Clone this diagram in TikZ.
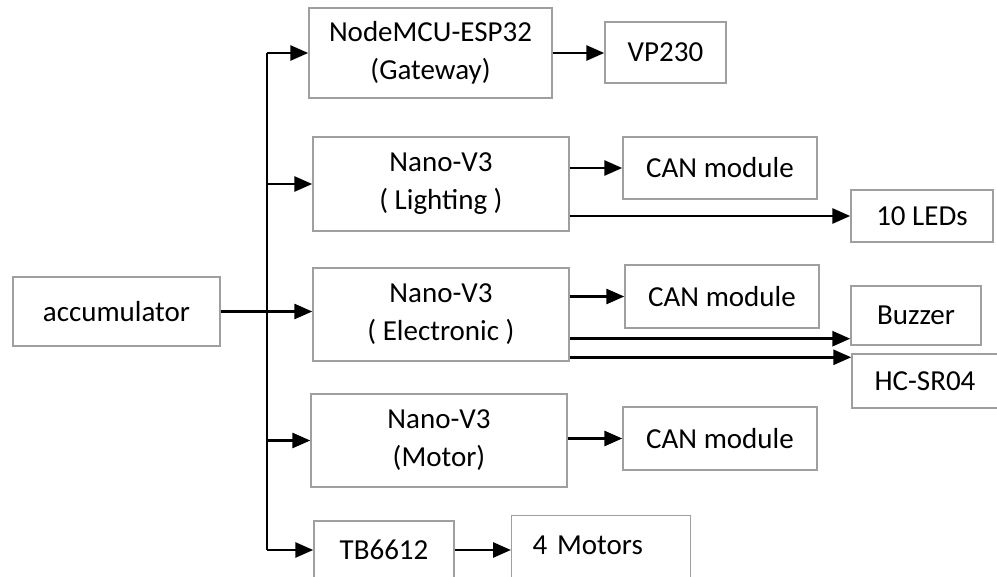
\documentclass[tikz,border=0pt]{standalone}
\usepackage{fontspec}
\setmainfont{Carlito}
\usetikzlibrary{arrows.meta}

\begin{document}
\begin{tikzpicture}[x=0.5pt,y=-0.5pt,line width=1.4pt,
  box/.style={draw=gray!75,line width=0.7pt,inner sep=0pt,align=center,
    font=\fontsize{14.5}{19}\selectfont},
  arr/.style={line width=1.4pt,-{Triangle[length=9pt,width=7.5pt]}}]
\useasboundingbox (0,0) rectangle (997,577);
\clip (0,0) rectangle (997,577);
% ---------- source and controllers ----------
\node[box,minimum width=103.5pt,minimum height=34.5pt] (acc) at (116.5,311.5) {accumulator};
\node[box,minimum width=121.5pt,minimum height=45pt] (gw) at (430.5,53) {NodeMCU-ESP32\\(Gateway)};
\node[box,minimum width=128pt,minimum height=47pt] (light) at (441,184) {Nano-V3\\( Lighting )};
\node[box,minimum width=128pt,minimum height=46.5pt] (elec) at (441,314.5) {Nano-V3\\( Electronic )};
\node[box,minimum width=128pt,minimum height=46.5pt] (motor) at (439,440.5) {Nano-V3\\(Motor)};
\node[box,minimum width=70pt,minimum height=29pt] (tb) at (384,550) {TB6612};
% ---------- peripherals ----------
\node[box,minimum width=60.5pt,minimum height=30.5pt] (vp) at (665.5,52.5) {VP230};
\node[box,minimum width=97pt,minimum height=31pt] (can1) at (720,168) {CAN module};
\node[box,minimum width=71pt,minimum height=26pt] (leds) at (922,216) {10 LEDs};
\node[box,minimum width=97pt,minimum height=31.5pt] (can2) at (722,296.5) {CAN module};
\node[box,minimum width=65pt,minimum height=29.5pt] (buz) at (916,315.5) {Buzzer};
\node[box,minimum width=73pt,minimum height=27pt] (hc) at (925,381) {HC-SR04};
\node[box,minimum width=97pt,minimum height=31.5pt] (can3) at (720,438.5) {CAN module};
\node[box,anchor=north west,text width=68.5pt,inner xsep=10.5pt,align=left,
  text height=19.5pt,text depth=30pt] (mot4) at (511,515) {4 Motors};
% ---------- bus ----------
\coordinate (bus) at (267,311.5);
\draw (acc.east) -- (bus);
\draw (bus |- gw.west) -- (bus |- tb.west);
\draw[arr] (bus) -- (bus -| elec.west);
\draw[arr] (bus |- gw.west) -- (gw.west);
\draw[arr] (bus |- light.west) -- (light.west);
\draw[arr] (bus |- motor.west) -- (motor.west);
\draw[arr] (bus |- tb.west) -- (tb.west);
% ---------- outputs ----------
\coordinate (buzin) at ([yshift=3.5pt]buz.south west);
\coordinate (hcin) at ([yshift=-2pt]hc.north west);
\draw[arr] (gw.east) -- (gw.east -| vp.west);
\draw[arr] (light.east |- can1.west) -- (can1.west);
\draw[arr] (light.east |- leds.west) -- (leds.west);
\draw[arr] (elec.east |- can2.west) -- (can2.west);
\draw[arr] (elec.east |- buzin) -- (buzin);
\draw[arr] (elec.east |- hcin) -- (hcin);
\draw[arr] (motor.east |- can3.west) -- (can3.west);
\draw[arr] (tb.east) -- (tb.east -| mot4.west);
\end{tikzpicture}
\end{document}
